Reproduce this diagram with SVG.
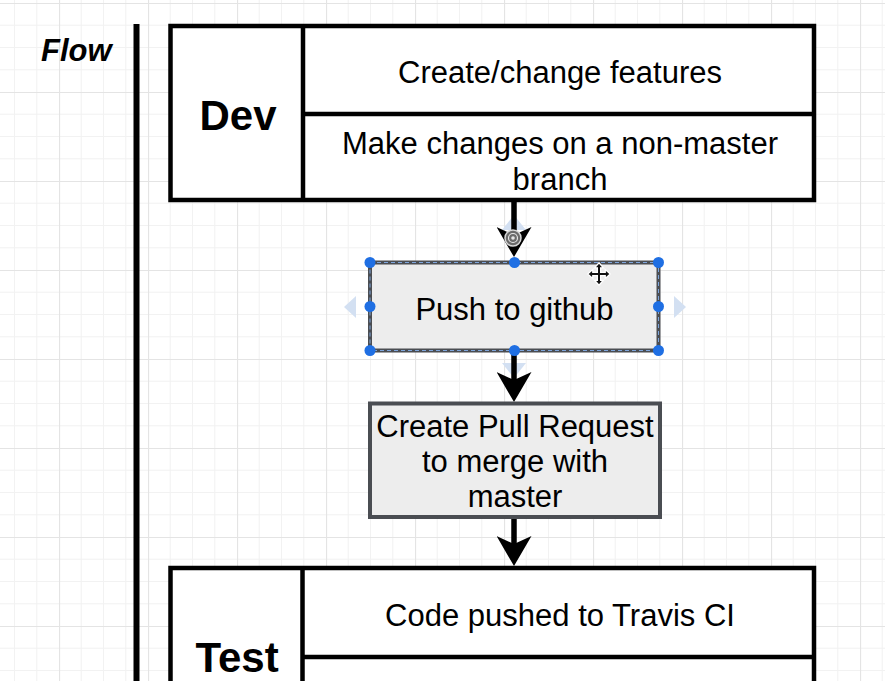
<svg xmlns="http://www.w3.org/2000/svg" width="885" height="681" viewBox="0 0 885 681">
  <defs>
    <pattern id="grid" patternUnits="userSpaceOnUse" x="-30" y="3" width="89" height="89">
      <rect width="89" height="89" fill="#ffffff"/>
      <path d="M22.25 0V89M44.5 0V89M66.75 0V89M0 22.25H89M0 44.5H89M0 66.75H89" stroke="#f2f2f2" stroke-width="1" fill="none"/>
      <path d="M0.5 0V89M0 0.5H89" stroke="#e4e4e4" stroke-width="1.2" fill="none"/>
    </pattern>
    <marker id="arrow" markerUnits="userSpaceOnUse" viewBox="0 0 30 35" refX="8" refY="17.5" markerWidth="30" markerHeight="35" orient="auto">
      <path d="M0,0 L30,17.5 L0,35 L8,17.5 Z" fill="#000"/>
    </marker>
    <style>
      .txt { font-family: "Liberation Sans", Arial, Helvetica, sans-serif; font-size: 31px; fill: #000; text-anchor: middle; }
      .big { font-family: "Liberation Sans", Arial, Helvetica, sans-serif; font-size: 42px; font-weight: bold; fill: #000; text-anchor: middle; }
      .frame { fill: #fff; stroke: #000; stroke-width: 4.5; }
      .div { stroke: #000; stroke-width: 4.5; fill: none; }
      .step { fill: #ededed; stroke: #4a4d52; stroke-width: 4; }
      .conn { stroke: #000; stroke-width: 5.5; fill: none; marker-end: url(#arrow); }
      .handle { fill: #1f6fe3; }
      .hint { fill: #d3e0f2; }
    </style>
  </defs>

  <rect x="0" y="0" width="885" height="681" fill="url(#grid)"/>

  <g id="flow-label">
    <text x="41" y="61" font-family="'Liberation Sans', Arial, Helvetica, sans-serif" font-size="31" font-weight="bold" font-style="italic" fill="#000">Flow</text>
    <rect x="133.5" y="24" width="6" height="665" fill="#000"/>
  </g>

  <g id="ui-hints">
    <polygon class="hint" points="514,215 502,230 526,230"/>
    <polygon class="hint" points="514,378 502,363 526,363"/>
    <polygon class="hint" points="356,296 356,318 344,307"/>
    <polygon class="hint" points="674,296 674,318 686,307"/>
  </g>

  <g id="connectors">
    <path class="conn" d="M514,202 L514,235"/>
    <path class="conn" d="M514,351 L514,380"/>
    <path class="conn" d="M514,517 L514,544"/>
  </g>

  <g id="dev">
    <rect class="frame" x="170.5" y="26" width="643.5" height="174"/>
    <path class="div" d="M303,26 V200 M303,114 H814"/>
    <text class="big" x="238" y="130">Dev</text>
    <text class="txt" x="560" y="83">Create/change features</text>
    <text class="txt" x="560" y="154">Make changes on a non-master</text>
    <text class="txt" x="560" y="190">branch</text>
  </g>

  <g id="push">
    <rect class="step" x="370" y="262.5" width="288.5" height="88" stroke="#474b52" stroke-width="3.5"/>
    <rect x="370" y="262.5" width="288.5" height="88" fill="none" stroke="#7fa6dc" stroke-width="1" stroke-dasharray="4 3"/>
    <text class="txt" x="514.5" y="320">Push to github</text>
  </g>

  <g id="pull-request">
    <rect class="step" x="370" y="403.5" width="290" height="113.5" stroke="#555"/>
    <text class="txt" x="515" y="437">Create Pull Request</text>
    <text class="txt" x="515" y="472">to merge with</text>
    <text class="txt" x="515" y="507">master</text>
  </g>

  <g id="test">
    <rect class="frame" x="170.5" y="568" width="643.5" height="190"/>
    <path class="div" d="M302.5,568 V760 M302.5,657 H814"/>
    <text class="big" x="237" y="672">Test</text>
    <text class="txt" x="560" y="626">Code pushed to Travis CI</text>
  </g>

  <g id="selection-handles">
    <circle class="handle" cx="370" cy="262.5" r="5.5"/>
    <circle class="handle" cx="514.5" cy="262.5" r="5.5"/>
    <circle class="handle" cx="658.5" cy="262.5" r="5.5"/>
    <circle class="handle" cx="370" cy="306.5" r="5.5"/>
    <circle class="handle" cx="658.5" cy="306.5" r="5.5"/>
    <circle class="handle" cx="370" cy="350.5" r="5.5"/>
    <circle class="handle" cx="514.5" cy="350.5" r="5.5"/>
    <circle class="handle" cx="658.5" cy="350.5" r="5.5"/>
    <g id="rotate-icon">
      <circle cx="513" cy="238" r="8" fill="#6b6b6b" stroke="#d8d8d8" stroke-width="1.5"/>
      <circle cx="513" cy="238" r="4.5" fill="none" stroke="#e6e6e6" stroke-width="1.2"/>
      <circle cx="513" cy="238" r="1.8" fill="#e6e6e6"/>
    </g>
    <g id="move-cursor" transform="translate(599,274) scale(1.25)">
      <path d="M0,-9 L3.5,-5 L1.3,-5 L1.3,-1.3 L5,-1.3 L5,-3.5 L9,0 L5,3.5 L5,1.3 L1.3,1.3 L1.3,5 L3.5,5 L0,9 L-3.5,5 L-1.3,5 L-1.3,1.3 L-5,1.3 L-5,3.5 L-9,0 L-5,-3.5 L-5,-1.3 L-1.3,-1.3 L-1.3,-5 L-3.5,-5 Z" fill="#111" stroke="#fff" stroke-width="1"/>
    </g>
  </g>
</svg>
